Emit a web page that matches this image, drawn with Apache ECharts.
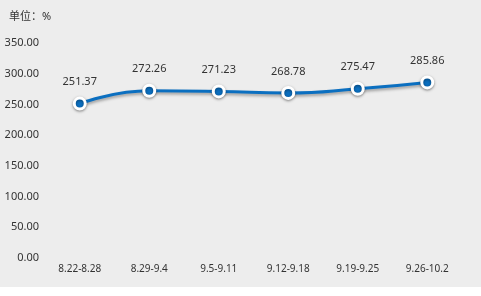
<!DOCTYPE html>
<html>
<head>
<meta charset="utf-8">
<script src="https://cdn.jsdelivr.net/npm/echarts@6/dist/echarts.min.js"></script>
<style>
html, body { margin: 0; padding: 0; background: #fff; }
#chart { width: 481px; height: 287px; background: #ededed; }
</style>
</head>
<body>
<div id="chart"></div>
<script>
var weeks = ['8.22-8.28', '8.29-9.4', '9.5-9.11', '9.12-9.18', '9.19-9.25', '9.26-10.2']
var values = [251.37, 272.26, 271.23, 268.78, 275.47, 285.86]

var chart = echarts.init(document.getElementById('chart'))
chart.setOption({
  textStyle: { fontFamily: 'Noto Sans, Noto Sans CJK SC, sans-serif' },
  title: {
    text: '单位：%',
    left: 4,
    top: 6,
    textStyle: { fontSize: 11, fontWeight: 'normal', color: '#333' }
  },
  grid: { left: 45, right: 19, top: 43, bottom: 29 },
  xAxis: {
    type: 'category',
    data: weeks,
    axisLine: { show: false },
    axisTick: { show: false },
    axisLabel: { color: '#333', fontSize: 10, margin: 6 }
  },
  yAxis: {
    type: 'value',
    min: 0,
    max: 350,
    interval: 50,
    splitLine: { show: false },
    axisLabel: {
      color: '#333',
      fontSize: 11,
      margin: 6,
      formatter: function (v) { return v.toFixed(2) }
    }
  },
  series: [
    {
      type: 'line',
      data: values,
      smooth: true,
      symbol: 'circle',
      symbolSize: 11,
      lineStyle: {
        color: '#0b6fc0',
        width: 3,
        shadowColor: 'rgba(0,0,0,0.35)',
        shadowBlur: 3,
        shadowOffsetY: 2
      },
      itemStyle: {
        color: '#0b6fc0',
        borderColor: '#fff',
        borderWidth: 3,
        shadowColor: 'rgba(0,0,0,0.4)',
        shadowBlur: 3,
        shadowOffsetY: 1
      },
      label: {
        show: true,
        position: 'top',
        distance: 9,
        color: '#333',
        fontSize: 11,
        formatter: function (p) { return p.value.toFixed(2) }
      }
    }
  ]
})
</script>
</body>
</html>
